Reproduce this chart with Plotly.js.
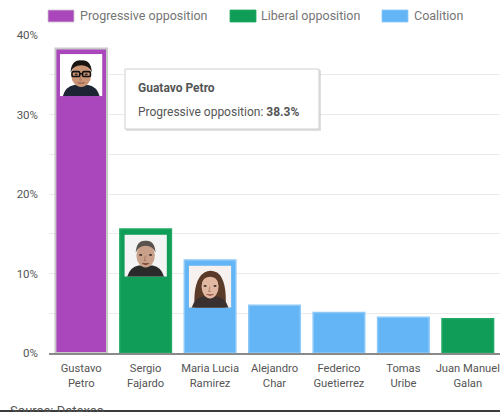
<!DOCTYPE html>
<html>
<head>
<meta charset="utf-8">
<script src="https://cdn.plot.ly/plotly-3.0.1.min.js"></script>
<style>
html,body{margin:0;padding:0;background:#fff;}
#chart{width:500px;height:412px;}
</style>
</head>
<body>
<div id="chart"></div>
<script>
// ---- data ----
const candidates = ['Gustavo Petro','Sergio Fajardo','Maria Lucia Ramirez','Alejandro Char','Federico Guetierrez','Tomas Uribe','Juan Manuel Galan'];
const tickLabels = ['Gustavo<br>Petro','Sergio<br>Fajardo','Maria Lucia<br>Ramirez','Alejandro<br>Char','Federico<br>Guetierrez','Tomas<br>Uribe','Juan Manuel<br>Galan'];
const values = [38.3, 15.6, 11.7, 6.0, 5.1, 4.5, 4.3];
const parties = ['Progressive opposition','Liberal opposition','Coalition','Coalition','Coalition','Coalition','Liberal opposition'];
const seriesNames = ['Progressive opposition','Liberal opposition','Coalition'];
const yTickVals = [0,5,10,15,20,25,30,35,40];
const yTickText = ['0%','','10%','','20%','','30%','','40%'];
const tooltipTitle = 'Guatavo Petro';
const tooltipIndex = 0;
const sourceText = 'Source: Datexco';

// ---- styles ----
const seriesColors = {'Progressive opposition':'#AB47BC','Liberal opposition':'#0F9D58','Coalition':'#64B5F6'};
const seriesBorders = {'Progressive opposition':'#c9c9c9','Liberal opposition':'#23a866','Coalition':'#8cc8f8'};

const W = 500, H = 412, ML = 49, MR = 0, MT = 35, MB = 59;
const px = x => (x - ML) / (W - ML - MR);
const py = y => (H - MB - y) / (H - MT - MB);

function face(o){
  let s = `<svg xmlns="http://www.w3.org/2000/svg" width="60" height="60" viewBox="0 0 60 60">`;
  s += `<rect width="60" height="60" fill="${o.bg}"/>`;
  if (o.longHair) s += `<path d="M8 60 Q6 20 22 10 Q30 5 40 10 Q54 20 52 60 Z" fill="${o.hair}"/>`;
  s += `<path d="M4 60 Q8 46 20 44 L40 44 Q52 46 56 60 Z" fill="${o.suit}"/>`;
  s += `<ellipse cx="30" cy="30" rx="${o.rx}" ry="17" fill="${o.skin}"/>`;
  s += `<path d="M${30-o.rx-1} 26 Q${30-o.rx} 8 30 9 Q${30+o.rx} 8 ${30+o.rx+1} 26 Q${30+o.rx-3} 16 30 16 Q${30-o.rx+3} 16 ${30-o.rx-1} 26 Z" fill="${o.hair}"/>`;
  if (o.glasses) {
    s += `<rect x="17" y="25" width="11" height="7" rx="2" fill="none" stroke="#111" stroke-width="2.2"/>`;
    s += `<rect x="32" y="25" width="11" height="7" rx="2" fill="none" stroke="#111" stroke-width="2.2"/>`;
    s += `<line x1="28" y1="28" x2="32" y2="28" stroke="#111" stroke-width="2"/>`;
  }
  s += `<ellipse cx="23" cy="29" rx="2.2" ry="1.3" fill="#3a2a22"/><ellipse cx="37" cy="29" rx="2.2" ry="1.3" fill="#3a2a22"/>`;
  s += `<path d="M30 30 L28 37 L31 37" fill="none" stroke="#9a6a55" stroke-width="1"/>`;
  s += `<path d="M25 41 Q30 ${o.mouth} 35 41" fill="${o.lip}" stroke="#7a4036" stroke-width="1"/>`;
  s += `</svg>`;
  return 'data:image/svg+xml;charset=utf-8,' + encodeURIComponent(s);
}
const photos = [
  {idx:0, src: face({bg:'#ffffff', hair:'#1b1512', skin:'#c99576', suit:'#1d2433', rx:14, glasses:true, mouth:42, lip:'#a86a5a'})},
  {idx:1, src: face({bg:'#f4f4f4', hair:'#5b534e', skin:'#c9a08a', suit:'#2b2a2a', rx:13, glasses:false, mouth:45, lip:'#6b3a30'})},
  {idx:2, src: face({bg:'#f6f1ee', hair:'#5a3a28', skin:'#e2b8a2', suit:'#3a3030', rx:12, glasses:false, mouth:44, lip:'#b0625a', longHair:true})}
];

// ---- traces ----
const traces = seriesNames.map(name => {
  const xs = [], ys = [];
  candidates.forEach((c, i) => { if (parties[i] === name) { xs.push(c); ys.push(values[i]); } });
  return {
    type:'bar', name, x: xs, y: ys,
    marker:{color: seriesColors[name], line:{color: seriesBorders[name], width: name === parties[tooltipIndex] ? 2 : 1.5}},
    width: 0.8, showlegend:false, hoverinfo:'skip'
  };
});

// ---- legend (drawn manually) ----
const shapes = [], annotations = [];
const legendItems = [
  {swX:48, txX:78},
  {swX:230, txX:259},
  {swX:382, txX:412}
];
seriesNames.forEach((name, i) => {
  const it = legendItems[i];
  shapes.push({type:'rect', xref:'paper', yref:'paper', x0:px(it.swX), x1:px(it.swX+26), y0:py(22), y1:py(10),
    fillcolor: seriesColors[name], line:{width:0.8, color: seriesBorders[name]}});
  annotations.push({xref:'paper', yref:'paper', x:px(it.txX), y:py(16), xanchor:'left', yanchor:'middle',
    text:name, showarrow:false, font:{family:'Roboto', size:12.5, color:'#757575'}});
});

// tooltip
shapes.push({type:'rect', xref:'paper', yref:'paper', x0:px(126), x1:px(321), y0:py(131), y1:py(70),
  fillcolor:'rgba(0,0,0,0.12)', line:{width:0}});
shapes.push({type:'rect', xref:'paper', yref:'paper', x0:px(125), x1:px(319), y0:py(129), y1:py(69),
  fillcolor:'#ffffff', line:{width:1, color:'#cfcfcf'}});
annotations.push({xref:'paper', yref:'paper', x:px(136), y:py(87.5), xanchor:'left', yanchor:'middle',
  text:'<b>' + tooltipTitle + '</b>', showarrow:false, font:{family:'Roboto', size:12, color:'#555555'}});
annotations.push({xref:'paper', yref:'paper', x:px(136), y:py(111.5), xanchor:'left', yanchor:'middle',
  text: parties[tooltipIndex] + ': <b>' + values[tooltipIndex].toFixed(1) + '%</b>', showarrow:false,
  font:{family:'Roboto', size:12, color:'#555555'}});

// source + bottom strip
annotations.push({xref:'paper', yref:'paper', x:px(8), y:py(401), xanchor:'left', yanchor:'top',
  text: sourceText, showarrow:false, font:{family:'Roboto', size:13, color:'#555555'}});
shapes.push({type:'rect', xref:'paper', yref:'paper', x0:px(0), x1:px(500), y0:py(413), y1:py(410),
  fillcolor:'#3c3c3c', line:{width:0}, layer:'above'});

// photos
const images = photos.map(p => ({
  source: p.src, xref:'x', yref:'y', x: p.idx, y: values[p.idx] - 0.7,
  sizex: 0.66, sizey: 5.3, xanchor:'center', yanchor:'top', sizing:'stretch', layer:'above'
}));

const layout = {
  width: W, height: H,
  margin:{l:ML, r:MR, t:MT, b:MB, pad:0},
  paper_bgcolor:'#ffffff', plot_bgcolor:'#ffffff',
  barmode:'overlay',
  font:{family:'Roboto', size:12, color:'#555555'},
  xaxis:{type:'category', categoryorder:'array', categoryarray:candidates,
    tickvals:candidates, ticktext:tickLabels, showgrid:false, showline:true, linecolor:'#8a8a8a', linewidth:1.5,
    ticks:'', ticklabelstandoff:4, tickfont:{family:'Roboto', size:11.2, color:'#555555'}, fixedrange:true},
  yaxis:{range:[0,40], tickvals:yTickVals, ticktext:yTickText, showgrid:true, gridcolor:'#ebebeb', gridwidth:1,
    zeroline:false, showline:false, ticks:'', ticklabelstandoff:10, tickfont:{family:'Roboto', size:11.5, color:'#555555'}, fixedrange:true},
  shapes, annotations, images,
  showlegend:false
};

Plotly.newPlot('chart', traces, layout, {displayModeBar:false, staticPlot:true});
</script>
</body>
</html>
